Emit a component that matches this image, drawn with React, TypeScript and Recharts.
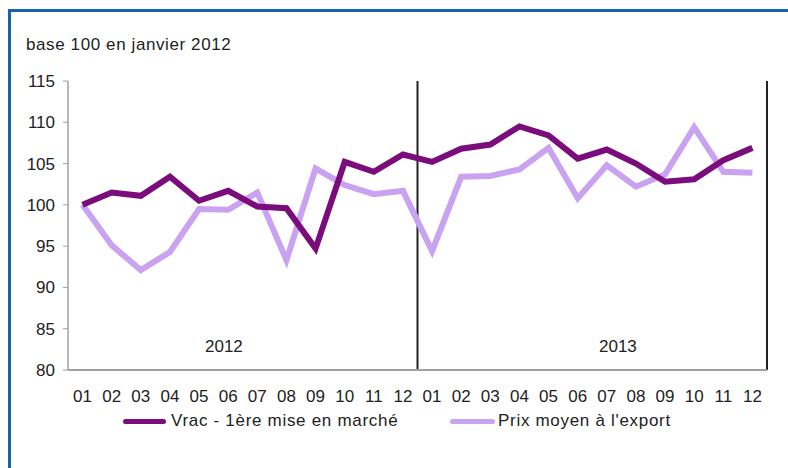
import React from "react";
import { LineChart, Line, XAxis, YAxis, ReferenceLine } from "recharts";

const months = ["01","02","03","04","05","06","07","08","09","10","11","12","01","02","03","04","05","06","07","08","09","10","11","12"];
const vrac = [100, 101.5, 101.1, 103.4, 100.5, 101.7, 99.8, 99.6, 94.7, 105.2, 104.0, 106.1, 105.2, 106.8, 107.3, 109.5, 108.4, 105.6, 106.7, 105.0, 102.8, 103.1, 105.4, 106.9];
const export_ = [100, 95.1, 92.1, 94.3, 99.5, 99.4, 101.5, 93.3, 104.4, 102.4, 101.3, 101.7, 94.4, 103.4, 103.5, 104.3, 106.9, 100.8, 104.8, 102.2, 103.7, 109.4, 104.0, 103.9];
const yTicks = [80, 85, 90, 95, 100, 105, 110, 115];
const years = ["2012", "2013"];
const seriesNames = ["Vrac - 1ère mise en marché", "Prix moyen à l'export"];
const colors = ["#7a0c7c", "#c9a3f2"];

const data = months.map((m, i) => ({ key: i, month: m, vrac: vrac[i], exp: export_[i] }));

const font = "'Liberation Sans', Arial, Helvetica, sans-serif";

export default function App() {
  return (
    <div style={{ position: "absolute", left: 0, top: 0, width: 788, height: 468, background: "#fff", overflow: "hidden", fontFamily: font }}>
      <div style={{ position: "absolute", left: 8, top: 9, width: 800, height: 480, borderLeft: "3px solid #1662ad", borderTop: "3px solid #1662ad" }} />
      <div style={{ position: "absolute", left: 26, top: 35, fontSize: 17, letterSpacing: 0.6, color: "#222", whiteSpace: "nowrap" }}>base 100 en janvier 2012</div>
      <LineChart width={788} height={468} data={data} margin={{ top: 81, right: 21, left: 0, bottom: 68 }}>
        <XAxis
          dataKey="key"
          type="category"
          scale="band"
          tickFormatter={(v) => months[v]}
          interval={0}
          height={30}
          axisLine={{ stroke: "#a0a0a0", strokeWidth: 2 }}
          tickLine={false}
          tickSize={0}
          tickMargin={20}
          tick={{ fontSize: 17, fill: "#222", fontFamily: font }}
        />
        <YAxis
          domain={[80, 115]}
          ticks={yTicks}
          width={68}
          interval={0}
          axisLine={{ stroke: "#a0a0a0", strokeWidth: 1.5 }}
          tickLine={{ stroke: "#a0a0a0" }}
          tickSize={5}
          tickMargin={8}
          tick={{ fontSize: 17, fill: "#222", fontFamily: font }}
        />
        <ReferenceLine x={11} position="end" stroke="#222" strokeWidth={2} />
        <ReferenceLine x={23} position="end" stroke="#222" strokeWidth={2} />
        <Line type="linear" dataKey="exp" stroke={colors[1]} strokeWidth={6} dot={false} isAnimationActive={false} strokeLinejoin="miter" />
        <Line type="linear" dataKey="vrac" stroke={colors[0]} strokeWidth={6} dot={false} isAnimationActive={false} strokeLinejoin="miter" />
      </LineChart>
      <div style={{ position: "absolute", left: 205, top: 337, fontSize: 17, color: "#222" }}>{years[0]}</div>
      <div style={{ position: "absolute", left: 599, top: 337, fontSize: 17, color: "#222" }}>{years[1]}</div>
      <div style={{ position: "absolute", left: 123, top: 419, width: 43, height: 5, borderRadius: 3, background: colors[0] }} />
      <div style={{ position: "absolute", left: 171, top: 411, fontSize: 17, letterSpacing: 0.7, color: "#222", whiteSpace: "nowrap" }}>{seriesNames[0]}</div>
      <div style={{ position: "absolute", left: 450, top: 419, width: 45, height: 5, borderRadius: 3, background: colors[1] }} />
      <div style={{ position: "absolute", left: 498, top: 411, fontSize: 17, letterSpacing: 0.7, color: "#222", whiteSpace: "nowrap" }}>{seriesNames[1]}</div>
    </div>
  );
}
